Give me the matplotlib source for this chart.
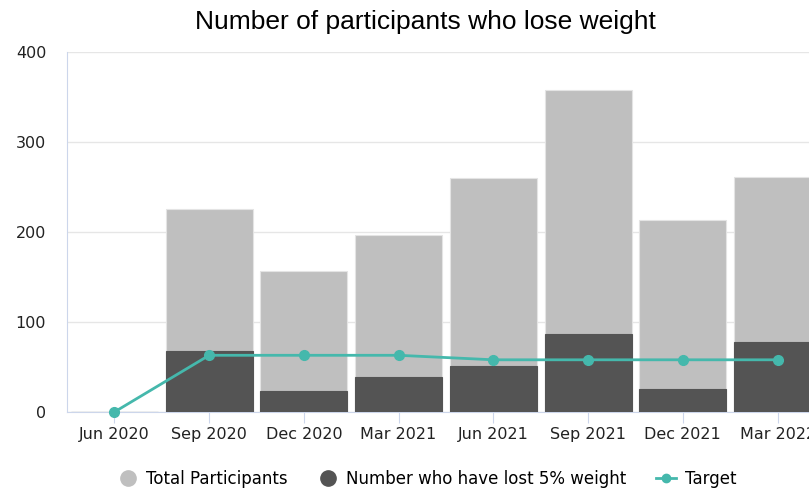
import matplotlib.pyplot as plt
import numpy as np
from matplotlib.lines import Line2D

## data
quarters = ['Jun 2020', 'Sep 2020', 'Dec 2020', 'Mar 2021', 'Jun 2021',
            'Sep 2021', 'Dec 2021', 'Mar 2022']
total = [0, 226, 157, 197, 260, 358, 213, 261]
lost5 = [0, 68, 23, 39, 51, 87, 26, 78]
target = [0, 63, 63, 63, 58, 58, 58, 58]

light = '#bfbfbf'
dark = '#545454'
teal = '#45b8ac'
axcol = '#ccd6eb'

## plot
fig = plt.figure(figsize=(8.09, 4.88), dpi=100)
ax = fig.add_axes([67/809, 1-412/488, 758/809, 360/488])
x = np.arange(len(quarters))
ax.bar(x, total, width=0.92, color=light, edgecolor='#e4e4e4', linewidth=0.8, zorder=2)
ax.bar(x, lost5, width=0.92, color=dark, edgecolor=dark, linewidth=0.8, zorder=3)
ax.plot(x, target, color=teal, lw=2, marker='o', ms=7, zorder=4, clip_on=False)

ax.set_xlim(-0.5, 7.5)
ax.set_ylim(0, 400)
ax.set_yticks([0, 100, 200, 300, 400])
ax.set_xticks(x)
ax.set_xticklabels(quarters)
ax.yaxis.grid(True, color='#e6e6e6', lw=1, zorder=0)
ax.set_axisbelow(True)
for s in ['top', 'right']:
    ax.spines[s].set_visible(False)
ax.spines['left'].set_color(axcol)
ax.spines['bottom'].set_color(axcol)
ax.tick_params(axis='y', length=0, pad=15, labelsize=11.5, labelcolor='#222222')
ax.tick_params(axis='x', length=8, color=axcol, pad=3, labelsize=11.5, labelcolor='#222222')

fig.text(425/809, 1-22/488, 'Number of participants who lose weight',
         ha='center', va='center', fontsize=19, family='Liberation Sans')

handles = [Line2D([], [], ls='none', marker='o', ms=11, color=light),
           Line2D([], [], ls='none', marker='o', ms=11, color=dark),
           Line2D([], [], color=teal, lw=2, marker='o', ms=6)]
fig.legend(handles, ['Total Participants', 'Number who have lost 5% weight', 'Target'],
           loc='center', bbox_to_anchor=(427/809, 1-479/488), ncol=3, frameon=False,
           fontsize=12, handlelength=1.2, columnspacing=1.8, handletextpad=0.5)

plt.savefig('out.png', dpi=100)
